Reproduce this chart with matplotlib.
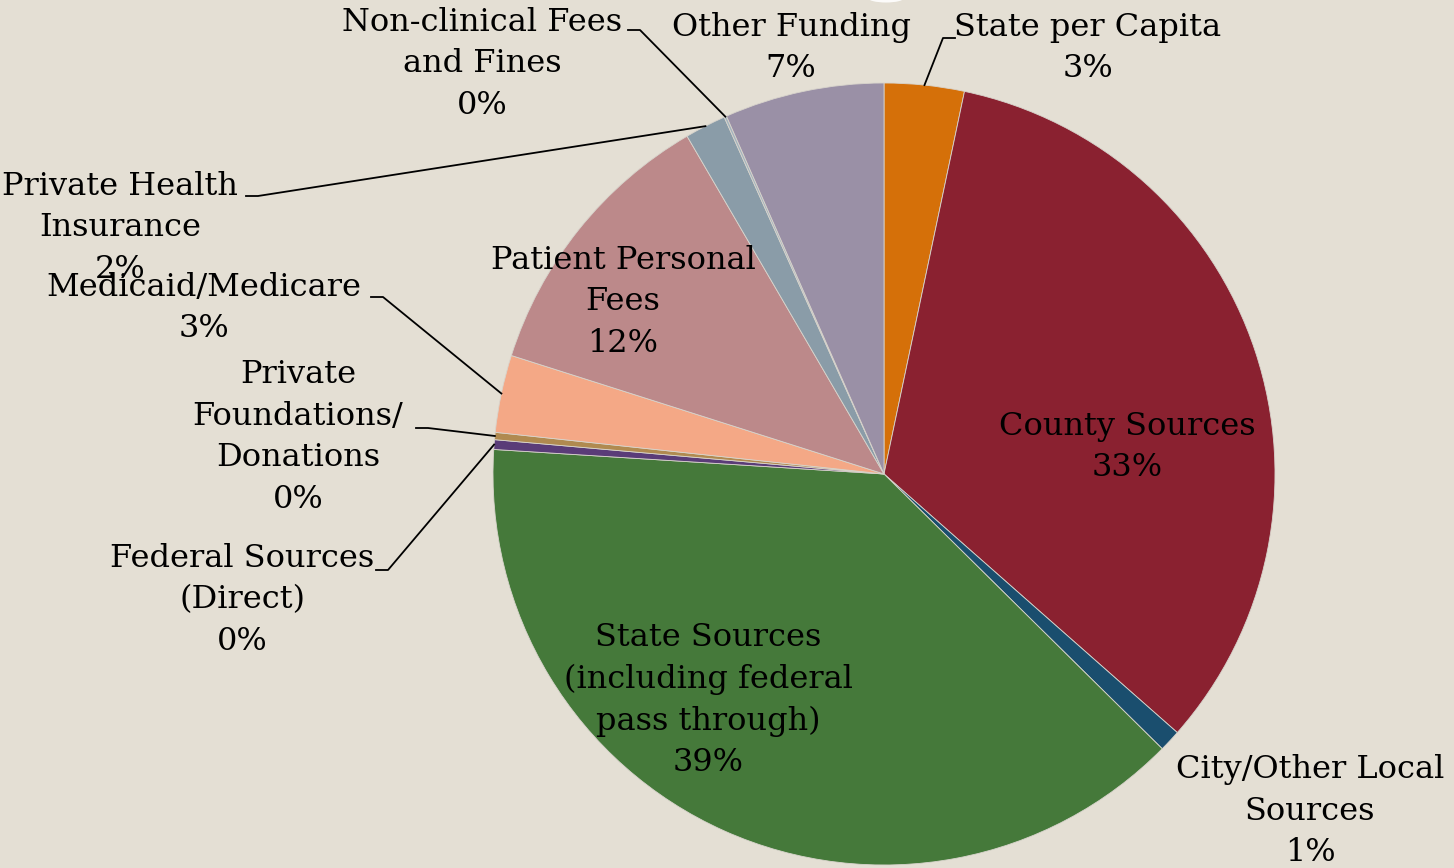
import numpy as np
import matplotlib.pyplot as plt
from matplotlib.patches import Ellipse

# funding sources, clockwise from 12 o'clock
sources = ["State per Capita", "County Sources", "City/Other Local\nSources",
           "State Sources\n(including federal\npass through)", "Federal Sources\n(Direct)",
           "Private\nFoundations/\nDonations", "Medicaid/Medicare", "Patient Personal\nFees",
           "Private Health\nInsurance", "Non-clinical Fees\nand Fines", "Other Funding"]
share = [3.3, 33.2, 0.9, 38.6, 0.4, 0.3, 3.2, 11.7, 1.7, 0.1, 6.6]
colors = ["#D57009", "#8A2130", "#1A4E6E", "#45793A", "#5A3C78", "#B08A50",
          "#F4A886", "#BC898A", "#8A9CA8", "#A4B4BE", "#9A90A6"]

W, H = 1454, 868
BG = "#E4DFD4"
cx, cy, R = 884, 474, 391   # pie centre / radius in pixels (y from top)

fig = plt.figure(figsize=(W / 100, H / 100), dpi=100, facecolor=BG)
ax = fig.add_axes([0, 0, 1, 1])

wedges, _ = ax.pie(share, colors=colors, startangle=90, counterclock=False,
                   center=(cx, H - cy), radius=R,
                   wedgeprops=dict(edgecolor="#D8D4CC", linewidth=0.6))
ax.set_xlim(0, W)
ax.set_ylim(0, H)
ax.set_aspect("equal")
ax.axis("off")

# small white glow at top edge
ax.add_patch(Ellipse((886, H + 2), 36, 9, color="white", alpha=0.9, lw=0))

font = dict(family="DejaVu Serif", size=23, color="black",
            ha="center", va="center", linespacing=1.44)

def label(i, x, y, elbow=None, side="right"):
    txt = f"{sources[i]}\n{share[i]:.0f}%"
    ax.text(x, H - y, txt, **font)
    if elbow is None:
        return
    w = wedges[i]
    a = np.deg2rad((w.theta1 + w.theta2) / 2)
    px, py = cx + R * np.cos(a), cy - R * np.sin(a)
    ex, ey = elbow
    tx = ex + (12 if side == "right" else -12)
    ax.plot([px, ex, tx], [H - py, H - ey, H - ey], color="black", lw=1.3)

# inside labels
label(1, 1127, 447)
label(3, 708, 700)
label(7, 623, 302)
# outside labels
label(0, 1088, 48, elbow=(943, 38), side="right")
label(2, 1310, 811)
label(4, 242, 600, elbow=(388, 570), side="left")
label(5, 298, 437, elbow=(428, 428), side="left")
label(6, 204, 308, elbow=(383, 297), side="left")
label(8, 120, 228, elbow=(258, 196), side="left")
label(9, 482, 64, elbow=(640, 30), side="left")
label(10, 791, 48)

fig.savefig("out.png", dpi=100, facecolor=BG)
